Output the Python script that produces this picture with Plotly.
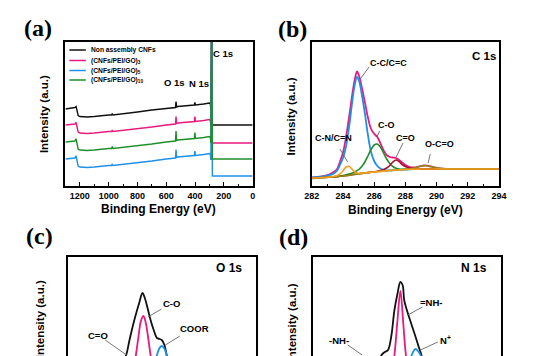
import plotly.graph_objects as go

# window is 538x356; the page body has an 8px default margin
W, H = 538, 356
OFF = 8
FW, FH = W - OFF, H - OFF

# ---------------- data ----------------
# (a) survey spectra
survey_be = [1300, 1260, 1235, 1226, 1220, 1212, 1200, 1150, 1100, 1050, 1000, 980, 975, 970,
             900, 800, 700, 600, 545, 536, 532, 528, 520, 450, 405, 401, 397, 340, 310, 300,
             294, 290, 286, 284.8, 283, 280, 270, 200, 100, 0]
survey_black = [77, 77.5, 78.5, 79.5, 76, 70.5, 69.5, 69, 69.5, 70.5, 71, 71, 72.5, 71,
                72, 74, 76, 77.5, 78.5, 78.5, 84.5, 79, 79.5, 80.5, 81, 83.5, 81, 82, 83, 83,
                82, 77, 150, 400, 150, 61, 61, 61, 61, 61]
survey_magenta = [61, 61.5, 62, 63.5, 60, 54, 53, 52.5, 53, 54, 54.5, 54.5, 56, 54.5,
                  55.5, 57, 59, 61, 62, 62, 69.5, 62.5, 63, 64, 64.5, 69.5, 64.5, 65.5, 66.5, 66.5,
                  65.5, 60, 150, 400, 150, 43, 43, 43, 43, 43]
survey_blue = [27, 27.5, 28, 30, 26, 20, 19, 18.5, 19, 20, 20.5, 20.5, 22, 20.5,
               21.5, 23, 25, 27, 28, 28, 36.5, 28.5, 29, 30, 30.5, 35, 30.5, 31.5, 32.5, 32.5,
               31.5, 26, 150, 400, 150, 10, 10, 10, 10, 10]
survey_green = [44, 44.5, 45, 47, 43, 37, 36, 35.5, 36, 37, 37.5, 37.5, 39.5, 37.5,
                38.5, 40, 42, 44, 45, 45, 55, 45.5, 46, 47, 47.5, 53.5, 47.5, 48.5, 49.5, 49.5,
                48.5, 43, 150, 400, 150, 27, 27, 27, 27, 27]
survey_names = ["Non assembly CNFs", "(CNFs/PEI/GO)<sub>3</sub>",
                "(CNFs/PEI/GO)<sub>5</sub>", "(CNFs/PEI/GO)<sub>10</sub>"]
survey_ticks = [1200, 1000, 800, 600, 400, 200, 0]

# (b) C 1s fit
c1s_be = [282, 282.5, 283, 283.3, 283.6, 283.8, 284, 284.2, 284.4, 284.6, 284.75, 284.9, 285.05,
          285.2, 285.4, 285.6, 285.8, 286, 286.2, 286.4, 286.6, 286.8, 287, 287.2, 287.4, 287.6,
          287.8, 288, 288.3, 288.6, 288.9, 289.2, 289.5, 289.8, 290.2, 290.6, 291, 292, 293, 294]
c1s_envelope = [8.5, 9.3, 10.8, 13, 16.5, 24, 33.5, 49.4, 69.9, 91.9, 106, 114.5, 109,
                99, 84, 68.5, 57, 52.2, 49, 42.7, 35.8, 31, 29, 28.5, 28, 26,
                23.5, 21, 18.8, 18.6, 19.6, 20.5, 20, 18.8, 17.6, 17.1, 17, 17, 17, 17]
c1s_cc = [8.3, 9, 10.5, 11.5, 15, 21, 28, 40, 60, 85, 101, 109, 104,
          92, 73, 51, 34, 25, 20, 17.5, 16.2, 15.6, 15.6, 15.7, 15.9, 16.1,
          16.3, 16.5, 16.7, 16.8, 16.9, 17, 17, 17, 17, 17, 17, 17, 17, 17]
c1s_co = [7.5, 8, 8.6, 9, 9.6, 10, 10.5, 11.2, 12, 13, 14, 15.3, 17,
          19.5, 24, 30, 36.5, 41, 42, 39, 33, 27, 22.5, 19.5, 17.8, 17,
          16.7, 16.7, 16.8, 16.9, 16.9, 17, 17, 17, 17, 17, 17, 17, 17, 17]
c1s_c_eq_o = [8, 8.3, 8.7, 9, 9.4, 9.7, 10, 10.4, 10.8, 11.3, 11.6, 12, 12.3,
              12.6, 13, 13.4, 13.8, 14.2, 14.7, 15.4, 16.4, 18, 20.5, 24, 26, 24.5,
              21.5, 19.5, 17.8, 17.2, 17, 17, 17, 17, 17, 17, 17, 17, 17, 17]
c1s_oco = [8, 8.3, 8.7, 9, 9.4, 9.7, 10, 10.4, 10.8, 11.3, 11.6, 12, 12.3,
           12.6, 13, 13.4, 13.7, 14, 14.3, 14.6, 14.9, 15.2, 15.5, 15.7, 15.9, 16.1,
           16.3, 16.6, 17, 18, 19.5, 20.5, 20, 18.8, 17.6, 17.1, 17, 17, 17, 17]
c1s_cn = [8, 8.3, 8.7, 9.2, 10.3, 12, 15, 19, 19.5, 16.5, 14.2, 13, 12.6,
          12.7, 13, 13.4, 13.7, 14, 14.3, 14.6, 14.9, 15.2, 15.5, 15.7, 15.9, 16.1,
          16.3, 16.5, 16.7, 16.8, 16.9, 17, 17, 17, 17, 17, 17, 17, 17, 17]
c1s_ticks = [282, 284, 286, 288, 290, 292, 294]

# (c) O 1s fit (visible upper part)
o1s_env_be = [531.3, 531.71, 531.92, 532.23, 532.54, 532.75, 532.9, 533.06, 533.27, 533.47,
              533.68, 533.85, 533.99, 534.16, 534.3, 534.5]
o1s_env = [-15, 1, 16, 36, 53, 63, 58, 49, 36, 26, 18, 17, 16, 11, 1, -15]
o1s_co_be = [532.15, 532.33, 532.5, 532.65, 532.81, 532.95, 533.1, 533.27, 533.45]
o1s_co = [-15, 1, 20, 35, 40, 34, 20, 1, -15]
o1s_coor_be = [533.5, 533.68, 533.85, 533.99, 534.15, 534.3, 534.45]
o1s_coor = [-12, 1, 8, 10, 7.5, 1, -12]

# (d) N 1s fit (visible upper part)
n1s_env_be = [398.2, 398.39, 398.6, 398.8, 399.0, 399.21, 399.4, 399.59, 399.73, 399.83,
              400.0, 400.14, 400.35, 400.56, 400.76, 400.93, 401.1]
n1s_env = [-10, 1, 4, 6, 19, 46, 62, 74, 71, 56, 46, 39, 29, 19, 9, 1, -10]
n1s_nh_be = [399.05, 399.21, 399.4, 399.59, 399.77, 399.94, 400.1]
n1s_nh = [-15, 1, 35, 65, 33, 1, -15]
n1s_np_be = [400.15, 400.31, 400.45, 400.56, 400.7, 400.87, 401.0]
n1s_np = [-8, 1, 5.5, 7, 5, 1, -8]

# ---------------- style ----------------
BLACK = "#111111"
MAGENTA = "#E8197F"
BLUE = "#1E90E8"
GREEN = "#1F8F2A"
ORANGE = "#F5A01E"
DARKRED = "#A8102E"
OLIVE = "#8C8A12"
LEADER = "#666666"
SANS = "Liberation Sans, Arial, sans-serif"
SERIF = "Liberation Serif, Times New Roman, serif"


def xp(px):
    return (px - OFF) / FW


def yp(py):
    return 1 - (py - OFF) / FH


fig = go.Figure()


def add_line(x, y, color, xa, ya, width=1.5, shape="linear", name=None):
    fig.add_trace(go.Scatter(x=x, y=y, mode="lines", xaxis=xa, yaxis=ya,
                             line=dict(color=color, width=width, shape=shape),
                             showlegend=False, hoverinfo="skip", name=name))


# (a)
for ys, col, nm in [(survey_black, BLACK, survey_names[0]),
                    (survey_magenta, MAGENTA, survey_names[1]),
                    (survey_blue, BLUE, survey_names[2]),
                    (survey_green, GREEN, survey_names[3])]:
    add_line(survey_be, ys, col, "x", "y", width=1.4, name=nm)

# (b)
add_line(c1s_be, c1s_envelope, MAGENTA, "x2", "y2", 1.8, "spline")
add_line(c1s_be, c1s_cc, BLUE, "x2", "y2", 1.8, "spline")
add_line(c1s_be, c1s_co, GREEN, "x2", "y2", 1.6, "spline")
add_line(c1s_be, c1s_c_eq_o, DARKRED, "x2", "y2", 1.6, "spline")
add_line(c1s_be, c1s_oco, OLIVE, "x2", "y2", 1.6, "spline")
add_line(c1s_be, c1s_cn, ORANGE, "x2", "y2", 1.6, "spline")

# (c)
add_line(o1s_env_be, o1s_env, BLACK, "x3", "y3", 1.8, "spline")
add_line(o1s_co_be, o1s_co, MAGENTA, "x3", "y3", 1.8, "spline")
add_line(o1s_coor_be, o1s_coor, BLUE, "x3", "y3", 1.8, "spline")

# (d)
add_line(n1s_env_be, n1s_env, BLACK, "x4", "y4", 1.8, "spline")
add_line(n1s_nh_be, n1s_nh, MAGENTA, "x4", "y4", 1.8, "spline")
add_line(n1s_np_be, n1s_np, BLUE, "x4", "y4", 1.8, "spline")

tickfont = dict(family=SANS, size=9, color="black", weight="bold")
frame = dict(showline=True, linecolor="black", linewidth=1.5, mirror=True,
             showgrid=False, zeroline=False)

yd_top = [yp(186), yp(42)]
yd_bot = [0, yp(257)]

fig.update_layout(
    width=FW, height=FH, margin=dict(l=0, r=0, t=0, b=0),
    paper_bgcolor="white", plot_bgcolor="white", showlegend=False,
    xaxis=dict(domain=[xp(59), xp(252)], range=[1300, 0], anchor="y",
               tickmode="array", tickvals=survey_ticks, ticks="inside", ticklen=4,
               tickwidth=1.2, tickcolor="black", tickfont=tickfont,
               minor=dict(ticks="inside", ticklen=2, dtick=100, tickcolor="black"),
               **frame),
    yaxis=dict(domain=yd_top, range=[0, 144], anchor="x", showticklabels=False,
               ticks="", **frame),
    xaxis2=dict(domain=[xp(313), xp(506)], range=[282, 294], anchor="y2",
                tickmode="array", tickvals=c1s_ticks, ticks="inside", ticklen=4,
                tickwidth=1.2, tickcolor="black", tickfont=tickfont,
                minor=dict(ticks="inside", ticklen=2, dtick=1, tickcolor="black"),
                **frame),
    yaxis2=dict(domain=yd_top, range=[0, 144], anchor="x2", showticklabels=False,
                ticks="", **frame),
    xaxis3=dict(domain=[xp(62), xp(255)], range=[528, 540], anchor="y3", side="top",
                showticklabels=False, ticks="", showline=True, linecolor="black",
                linewidth=1.5, mirror=False, showgrid=False, zeroline=False),
    yaxis3=dict(domain=yd_bot, range=[0, 99], anchor="x3", showticklabels=False,
                ticks="", **frame),
    xaxis4=dict(domain=[xp(314), xp(508)], range=[394, 406], anchor="y4", side="top",
                showticklabels=False, ticks="", showline=True, linecolor="black",
                linewidth=1.5, mirror=False, showgrid=False, zeroline=False),
    yaxis4=dict(domain=yd_bot, range=[0, 99], anchor="x4", showticklabels=False,
                ticks="", **frame),
)

ann = []
shapes = []


def text_paper(px, py, txt, size, family=SANS, angle=0, xanchor="center", weight="bold"):
    ann.append(dict(x=xp(px), y=yp(py), xref="paper", yref="paper", text=txt,
                    showarrow=False, xanchor=xanchor, yanchor="middle", textangle=angle,
                    font=dict(family=family, size=size, color="black", weight=weight)))


def text_data(x, y, xr, yr, txt, size):
    ann.append(dict(x=x, y=y, xref=xr, yref=yr, text=txt, showarrow=False,
                    xanchor="center", yanchor="middle",
                    font=dict(family=SANS, size=size, color="black", weight="bold")))


def leader(x0, y0, x1, y1, xr, yr):
    shapes.append(dict(type="line", x0=x0, y0=y0, x1=x1, y1=y1, xref=xr, yref=yr,
                       line=dict(color=LEADER, width=0.9)))


# panel letters
text_paper(31, 28, "(a)", 24, SERIF)
text_paper(293, 29, "(b)", 24, SERIF)
text_paper(32, 236, "(c)", 24, SERIF)
text_paper(294, 237, "(d)", 24, SERIF)

# axis titles
text_paper(155, 209, "Binding Energy (eV)", 12)
text_paper(410, 210, "Binding Energy (eV)", 12)
text_paper(37, 114, "Intensity (a.u.)", 11.5, angle=-90)
text_paper(292, 116, "Intensity (a.u.)", 11.5, angle=-90)
text_paper(33, 319, "Intensity (a.u.)", 11.5, angle=-90)
text_paper(293, 322, "Intensity (a.u.)", 11.5, angle=-90)

# legend of (a)
legend_rows = [50, 60.5, 70.5, 80]
for row, col, nm in zip(legend_rows, [BLACK, MAGENTA, BLUE, GREEN], survey_names):
    shapes.append(dict(type="line", xref="paper", yref="paper", x0=xp(63), x1=xp(80),
                       y0=yp(row), y1=yp(row), line=dict(color=col, width=1.5)))
    text_paper(83, row, nm, 6.7, xanchor="left")

# (a) peak labels
text_data(209, 133, "x", "y", "C 1s", 9.5)
text_data(546, 104, "x", "y", "O 1s", 9.5)
text_data(370, 103, "x", "y", "N 1s", 9.5)

# (b) labels
text_data(293.05, 130, "x2", "y2", "C 1s", 11.5)
text_data(286.91, 123, "x2", "y2", "C-C/C=C", 9)
leader(285.67, 119, 285.11, 107, "x2", "y2")
text_data(286.79, 61, "x2", "y2", "C-O", 9)
leader(286.35, 55, 286.17, 49, "x2", "y2")
text_data(288.03, 48, "x2", "y2", "C=O", 9)
leader(287.85, 43, 287.41, 29, "x2", "y2")
text_data(283.37, 48, "x2", "y2", "C-N/C=N", 9)
leader(283.80, 37, 284.30, 24, "x2", "y2")
text_data(290.21, 42, "x2", "y2", "O-C=O", 9)
leader(289.59, 32, 289.46, 23, "x2", "y2")

# (c) labels
text_data(538.3, 88, "x3", "y3", "O 1s", 12)
text_data(534.59, 53, "x3", "y3", "C-O", 9.5)
leader(533.97, 47, 533.1, 39, "x3", "y3")
text_data(536.08, 28, "x3", "y3", "COOR", 9.5)
leader(535.15, 20, 534.22, 11, "x3", "y3")
text_data(529.87, 21, "x3", "y3", "C=O", 9.5)
leader(530.36, 16, 531.73, 1, "x3", "y3")

# (d) labels
text_data(404.3, 88, "x4", "y4", "N 1s", 12)
text_data(401.54, 54, "x4", "y4", "=NH-", 9.5)
leader(400.99, 49, 400.06, 41, "x4", "y4")
text_data(402.47, 16, "x4", "y4", "N<sup>+</sup>", 9.5)
leader(401.98, 14, 400.86, 6, "x4", "y4")
text_data(395.67, 16, "x4", "y4", "-NH-", 9.5)
leader(396.23, 11, 397.15, 1, "x4", "y4")

fig.update_layout(annotations=ann, shapes=shapes)

fig.write_html("out.html")
